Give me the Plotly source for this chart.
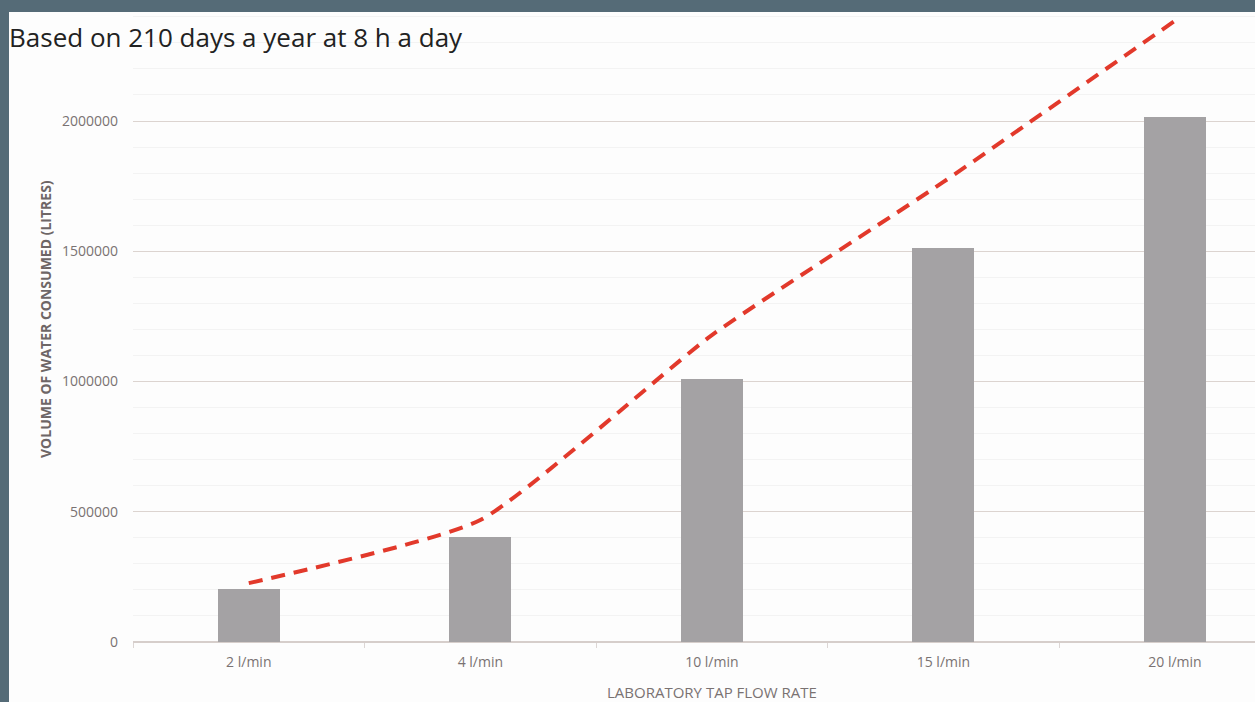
import plotly.graph_objects as go

# ---- data ----
categories = ["2 l/min", "4 l/min", "10 l/min", "15 l/min", "20 l/min"]
volume_litres = [201600, 403200, 1008000, 1512000, 2016000]
trend_litres = [226000, 468000, 1178000, 1766000, 2385000]
y_ticks = [0, 500000, 1000000, 1500000, 2000000]
y_tick_text = ["0", "500000", "1000000", "1500000", "2000000"]

W, H = 1255, 702
L, R, T, B = 133, 0, 12, 60
pw, ph = W - L - R, H - T - B

def px(xp):
    return (xp - L) / pw

def py(yp):
    return (H - B - yp) / ph

fig = go.Figure()
fig.add_trace(go.Bar(
    x=categories, y=volume_litres, width=0.268,
    marker=dict(color="#a4a2a4", line=dict(width=0)),
    showlegend=False, hoverinfo="skip"))
fig.add_trace(go.Scatter(
    x=categories, y=trend_litres, mode="lines",
    line=dict(color="#e2392b", width=4, dash="14px,9px", shape="spline", smoothing=0.5),
    showlegend=False, hoverinfo="skip", cliponaxis=False))

fig.update_layout(
    width=W, height=H,
    margin=dict(l=L, r=R, t=T, b=B),
    paper_bgcolor="#556b77",
    plot_bgcolor="rgba(0,0,0,0)",
    font=dict(family="Open Sans", color="#7a7272"),
    bargap=0,
    shapes=[dict(type="rect", xref="paper", yref="paper",
                 x0=px(9), x1=1.01, y0=py(H + 5), y1=py(12),
                 fillcolor="#fdfdfd", line=dict(width=0), layer="below")],
    annotations=[
        dict(text="Based on 210 days a year at 8 h a day", xref="paper", yref="paper",
             x=px(7), y=py(37), xanchor="left", yanchor="middle", showarrow=False,
             font=dict(family="Open Sans", size=26, color="#222222")),
        dict(text="<b>VOLUME OF WATER CONSUMED (LITRES)</b>", xref="paper", yref="paper",
             x=px(45), y=py(319), xanchor="center", yanchor="middle", textangle=-90,
             showarrow=False, font=dict(family="Open Sans", size=14, color="#6e6666")),
        dict(text="LABORATORY TAP FLOW RATE", xref="paper", yref="paper",
             x=px(712), y=py(692), xanchor="center", yanchor="middle",
             showarrow=False, font=dict(family="Open Sans", size=15, color="#7a7272")),
    ],
)

fig.update_xaxes(
    type="category", range=[-0.5, (W - 249) / 231.5],
    showgrid=False, showline=False, zeroline=False,
    ticks="outside", tickson="boundaries", ticklen=5, tickcolor="#dcd6d4",
    ticklabelstandoff=10,
    tickfont=dict(family="Open Sans", size=14, color="#7a7272"),
)
fig.update_yaxes(
    range=[0, ph / 260.5 * 1e6],
    tickvals=y_ticks, ticktext=y_tick_text,
    tickfont=dict(family="Open Sans", size=14, color="#7a7272"),
    showgrid=True, gridcolor="#dcd4d0", gridwidth=1,
    zeroline=True, zerolinecolor="#d6cecb", zerolinewidth=1.5,
    showline=False, ticks="", ticklabelstandoff=14,
    minor=dict(tickvals=[v for v in range(100000, 2500000, 100000) if v % 500000],
               showgrid=True, gridcolor="#f3f3f3", gridwidth=1),
)

fig.write_html("out.html")
